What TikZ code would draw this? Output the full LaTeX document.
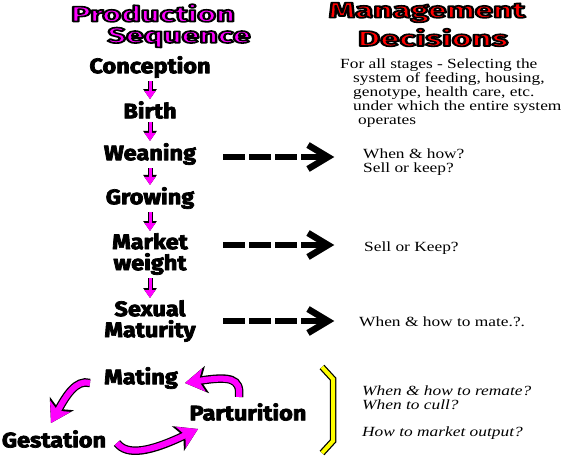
\documentclass[tikz,border=0pt]{standalone}
\usepackage{fontspec}
\usepackage{graphicx}
\setmainfont{Liberation Serif}
\newfontfamily\stagefont{Fira Sans}
\usetikzlibrary{arrows.meta,calc}
\definecolor{mag}{RGB}{255,0,255}
\definecolor{tred}{RGB}{255,0,0}
\definecolor{yel}{RGB}{255,255,0}
\newcommand\hsc[2]{\scalebox{#1}[1]{#2}}
% text filled and stroked in black outline of width #1
\newcommand\olt[2]{\special{pdf:literal direct 2 Tr #1 w 0 0 0 RG 1 j}#2\special{pdf:literal direct 0 Tr}}
\newcommand\stg[1]{\hsc{1.12}{\olt{0.7}{#1}}}
\newcommand\rt[1]{\hsc{1.24}{#1}}
\begin{document}
\begin{tikzpicture}[x=1pt,y=-1pt,
  titlefont/.style={font=\stagefont\bfseries\fontsize{21.5}{24}\selectfont,inner sep=0},
  stage/.style={font=\stagefont\bfseries\fontsize{21}{21}\selectfont,align=center,inner sep=0},
  rtext/.style={anchor=base west,inner sep=0,font=\fontsize{14}{15}\selectfont},
  itext/.style={anchor=base west,inner sep=0,font=\itshape\fontsize{14}{15}\selectfont},
  darr/.style={line width=6.5pt,dash pattern=on 22pt off 4pt},
  chev/.style={line width=6.5pt,line join=miter},
  marrb/.style={black,line width=5pt,-{Triangle[width=13pt,length=10pt]}},
  marr/.style={mag,line width=3pt,-{Triangle[width=10.5pt,length=8pt]}},
  carrb/.style={black,line width=8.5pt,-{Stealth[width=27pt,length=22pt,inset=6pt]}},
  carr/.style={mag,line width=6pt,-{Stealth[width=23pt,length=19pt,inset=5pt]}}]
\useasboundingbox[fill=white] (0,0) rectangle (567,455);

% titles
\node[titlefont,text=mag] (prod) at (153,13) {\hsc{1.52}{\olt{1.6}{Production}}};
\node[titlefont,text=mag] (seq) at (179,37.5) {\hsc{1.5}{\olt{1.6}{Sequence}}};
\node[titlefont,text=tred] (mgmt) at (427,12.5) {\hsc{1.55}{\olt{1.6}{Management}}};
\node[titlefont,text=tred] (deci) at (433,37.5) {\hsc{1.6}{\olt{1.6}{Decisions}}};

% stages
\node[stage] (conc) at (150,67) {\stg{Conception}};
\node[stage] (birth) at (150,110) {\stg{Birth}};
\node[stage] (wean) at (150,154) {\stg{Weaning}};
\node[stage] (grow) at (150,198) {\stg{Growing}};
\node[stage] (mark) at (150,254) {\stg{Market}\\\stg{weight}};
\node[stage] (sex) at (150,321) {\stg{Sexual}\\\stg{Maturity}};
\node[stage] (mating) at (141,378) {\stg{Mating}};
\node[stage] (part) at (248,412) {\stg{Parturition}};
\node[stage] (gest) at (54,439) {\stg{Gestation}};

% down arrows
\foreach \a/\b in {conc/birth,birth/wean,wean/grow,grow/mark,mark/sex}{
  \draw[marrb] ([yshift=-3pt]\a.south) -- ([yshift=2pt]\b.north);
  \draw[marr] ([yshift=-3pt]\a.south) -- ([yshift=2pt]\b.north);}

% decisions text
\node[rtext] (d1) at (340,68) {\rt{For all stages - Selecting the}};
\node[rtext] (d2) at (353,82) {\rt{system of feeding, housing,}};
\node[rtext] (d3) at (353,96) {\rt{genotype, health care, etc.}};
\node[rtext] (d4) at (353,110) {\rt{under which the entire system}};
\node[rtext] (d5) at (358,124) {\rt{operates}};
\node[rtext] (w1) at (363,158) {\rt{When \& how?}};
\node[rtext] (w2) at (363,172) {\rt{Sell or keep?}};
\node[rtext] (s1) at (364,251) {\rt{Sell or Keep?}};
\node[rtext] (m1) at (359,326) {\rt{When \& how to mate.?.}};
\node[itext] (i1) at (362,395) {\rt{When \& how to remate?}};
\node[itext] (i2) at (362,409) {\rt{When to cull?}};
\node[itext] (i3) at (362,436) {\rt{How to market output?}};

% dashed arrows
\coordinate (wa1) at (223,157); \coordinate (wa2) at (328,157);
\coordinate (ma1) at (223,245); \coordinate (ma2) at (328,245);
\coordinate (sa1) at (223,321); \coordinate (sa2) at (328,321);
\foreach \p/\q in {wa1/wa2,ma1/ma2,sa1/sa2}{
  \draw[darr] (\p) -- (\q);
  \draw[chev] ($(\q)+(-20,-12)$) -- (\q) -- ($(\q)+(-20,12)$);}

% cycle arrows
\coordinate (c1) at (90,383); \coordinate (c2) at (51,423);
\coordinate (c3) at (239,397); \coordinate (c4) at (185,383);
\coordinate (c5) at (117,443); \coordinate (c6) at (198,429);
\foreach \s in {carrb,carr}{
  \draw[\s] (c1) .. controls (76,379) and (66,396) .. (c2);
  \draw[\s] (c3) .. controls (241,378) and (230,376) .. (c4);
  \draw[\s] (c5) .. controls (127,456) and (150,452) .. (c6);}

% bracket
\coordinate (b1) at (322,367); \coordinate (b2) at (333,379);
\coordinate (b3) at (333,441); \coordinate (b4) at (322,453);
\draw[black,line width=6.5pt,line join=miter] (b1) -- (b2) -- (b3) -- (b4);
\draw[yel,line width=4pt,line join=miter] (b1) -- (b2) -- (b3) -- (b4);
\end{tikzpicture}
\end{document}
